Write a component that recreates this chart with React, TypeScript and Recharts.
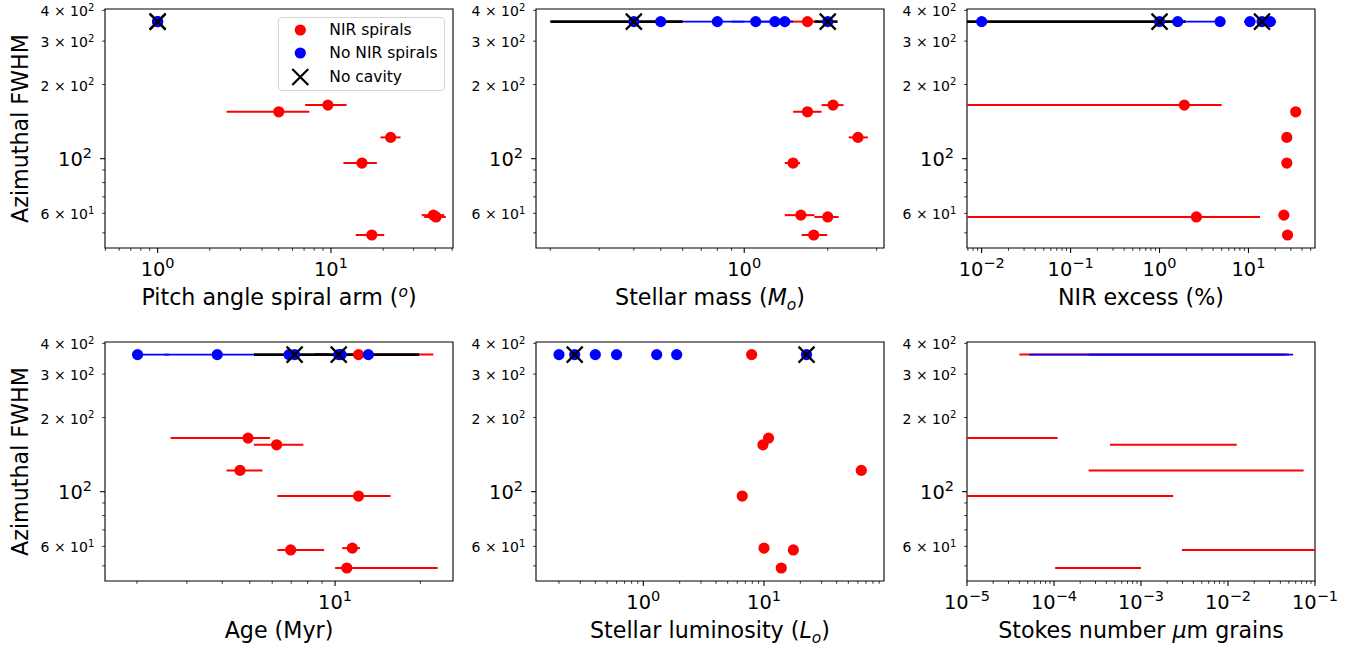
import React from 'react';
import { ScatterChart, Scatter, XAxis, YAxis, ErrorBar, ReferenceArea, Legend } from 'recharts';

const FONT = '"DejaVu Sans", Verdana, sans-serif';
const RED = '#ff0000';
const BLUE = '#0000ff';
const INK = '#000000';

type Num = number | null;

// azimuthal FWHM (objects without a value sit on the top row)
const fwhmSpiral = [165, 155, 122, 96, 59, 58, 49, 360];
const fwhmNoSpiral = [360, 360, 360, 360, 360];
const fwhmNoCavity = [360, 360];

// pitch angle of the spiral arm (deg)
const pitchSpiral: Num[] = [9.6, 5.0, 22.1, 15.1, 39, 40.4, 17.2, null];
const pitchSpiralLo: Num[] = [7.1, 2.5, 19.3, 11.8, 33.4, 34.5, 13.9, null];
const pitchSpiralHi: Num[] = [12.3, 7.5, 25.2, 18.4, 45, 46, 20.3, null];
const pitchNoSpiral: Num[] = [null, null, null, null, null];
const pitchNoCavity: Num[] = [1, 1];

// stellar mass (M_o)
const massSpiral: Num[] = [2.09, 1.69, 2.57, 1.5, 1.6, 2.0, 1.78, 1.69];
const massSpiralLo: Num[] = [1.9, 1.5, 2.38, 1.4, 1.4, 1.79, 1.61, 1.45];
const massSpiralHi: Num[] = [2.28, 1.9, 2.79, 1.59, 1.79, 2.19, 1.99, 1.85];
const massNoSpiral: Num[] = [0.5, 0.8, 1.1, 1.29, 1.4];
const massNoSpiralLo: Num[] = [0.45, 0.6, 0.9, 1.15, 1.3];
const massNoSpiralHi: Num[] = [0.6, 1.0, 1.3, 1.45, 1.5];
const massNoCavity: Num[] = [0.4, 2.0];
const massNoCavityLo: Num[] = [0.2, 1.79];
const massNoCavityHi: Num[] = [0.6, 2.17];

// NIR excess (%) — lower bounds that run off the plot are cut at the axis edge
const nirSpiral: Num[] = [1.9, 34, 27, 27, 25, 2.6, 27.5, null];
const nirSpiralLo: Num[] = [0.00684, null, null, null, null, 0.00684, null, null];
const nirSpiralHi: Num[] = [5.0, null, null, null, null, 13.5, null, null];
const nirNoSpiral: Num[] = [0.01, 1.6, 4.8, 10.4, 17.6];
const nirNoSpiralLo: Num[] = [null, 1.3, 2.0, 8.9, 15];
const nirNoSpiralHi: Num[] = [null, 2.0, null, 12, 20.5];
const nirNoCavity: Num[] = [1.0, 14.2];
const nirNoCavityLo: Num[] = [0.00684, null];
const nirNoCavityHi: Num[] = [1.96, null];

// age (Myr)
const ageSpiral: Num[] = [4.93, 6.22, 4.62, 12.1, 11.5, 6.97, 11.0, 12.1];
const ageSpiralLo: Num[] = [2.63, 5.17, 4.14, 6.26, 10.6, 6.26, 10.0, 10.0];
const ageSpiralHi: Num[] = [5.89, 7.73, 5.54, 15.7, 12.25, 9.15, 23.0, 22.2];
const ageNoSpiral: Num[] = [2.01, 3.84, 6.88, 10.5, 13.1];
const ageNoSpiralLo: Num[] = [null, 2.5, null, null, null];
const ageNoSpiralHi: Num[] = [2.6, 5.17, null, null, null];
const ageNoCavity: Num[] = [7.2, 10.3];
const ageNoCavityLo: Num[] = [5.17, 8.5];
const ageNoCavityHi: Num[] = [9.5, 19.8];

// stellar luminosity (L_o)
const lumSpiral: Num[] = [10.9, 9.8, 64, 6.6, 10.0, 17.5, 13.9, 7.9];
const lumNoSpiral: Num[] = [0.2, 0.4, 0.6, 1.29, 1.89];
const lumNoCavity: Num[] = [0.27, 22.5];

// Stokes number of micron grains — bounds past the axis are cut at the edge
const stokesSpiral: Num[] = [3e-5, 2.4e-3, 4e-3, 1.2e-3, null, 0.02, 5.6e-4, 1e-3];
const stokesSpiralLo: Num[] = [1e-5, 4.4e-4, 2.5e-4, 1e-5, null, 2.95e-3, 1.03e-4, 4e-5];
const stokesSpiralHi: Num[] = [1.1e-4, 1.26e-2, 0.074, 2.35e-3, null, 0.1, 1e-3, 0.05];
const stokesNoSpiral: Num[] = [null, 2e-3, null, 3e-3, null];
const stokesNoSpiralLo: Num[] = [null, 5.2e-5, null, 2.5e-4, null];
const stokesNoSpiralHi: Num[] = [null, 0.056, null, 0.045, null];
const stokesNoCavity: Num[] = [null, null];

// axis ticks
const yDomain = [43.4, 405];
const yTicks = [50, 60, 70, 80, 90, 100, 200, 300, 400];
const yTickLabels = ['', '6 × 10^1', '', '', '', '10^2', '2 × 10^2', '3 × 10^2', '4 × 10^2'];
const pitchMajors = [1, 10];
const massMajors = [1];
const nirMajors = [0.01, 0.1, 1, 10];
const ageMajors = [10];
const lumMajors = [1, 10];
const stokesMajors = [1e-5, 1e-4, 1e-3, 1e-2, 1e-1];

const PLOT_W = 348;
const PLOT_H = 239;
const PAD_L = 100;
const PAD_T = 10;
const PAD_R = 40;
const X_H = 65;

const toPoints = (xs: Num[], ys: number[], lo?: Num[], hi?: Num[]) =>
  xs
    .map((x, i) => {
      if (x == null) return null;
      const l = lo && lo[i] != null ? x - (lo[i] as number) : 0;
      const h = hi && hi[i] != null ? (hi[i] as number) - x : 0;
      return { x, y: ys[i], err: [l, h] };
    })
    .filter(Boolean) as { x: number; y: number; err: number[] }[];

const logTicks = ([lo, hi]: number[]) => {
  const out: number[] = [];
  for (let e = Math.floor(Math.log10(lo)); e <= Math.ceil(Math.log10(hi)); e++) {
    for (let m = 1; m < 10; m++) {
      const v = m * Math.pow(10, e);
      if (v >= lo * 0.9999 && v <= hi * 1.0001) out.push(v);
    }
  }
  return out;
};

const supText = (e: number) => (e < 0 ? '\u2212' + Math.abs(e) : String(e));

const makeXTick = (majors: number[]) => (props: any) => {
  const { x, y, payload } = props;
  const v = payload.value;
  const major = majors.some((m) => Math.abs(m - v) / m < 1e-6);
  const exp = Math.round(Math.log10(v));
  return (
    <g>
      <line x1={x} x2={x} y1={y} y2={y + (major ? 4.9 : 2.8)} stroke={INK} strokeWidth={major ? 1.1 : 0.8} />
      {major && (
        <text x={x} y={y + 28.4} textAnchor="middle" fontFamily={FONT} fontSize={19.4} fill={INK}>
          10
          <tspan dy={-8.5} fontSize={14.5}>
            {supText(exp)}
          </tspan>
        </text>
      )}
    </g>
  );
};

const YTick = (props: any) => {
  const { x, y, payload } = props;
  const v = payload.value;
  const idx = yTicks.indexOf(v);
  const lab = idx >= 0 ? yTickLabels[idx] : '';
  const major = v === 100;
  const [base, sup] = lab.split('^');
  return (
    <g>
      <line x1={x} x2={x - (major ? 4.9 : 2.8)} y1={y} y2={y} stroke={INK} strokeWidth={major ? 1.1 : 0.8} />
      {lab && (
        <text
          x={x - (major ? 13 : 10.7)}
          y={y + (major ? 7.5 : 6)}
          textAnchor="end"
          fontFamily={FONT}
          fontSize={major ? 19.4 : 14}
          fill={INK}
        >
          {base}
          <tspan dy={major ? -8.5 : -5.5} fontSize={major ? 14.5 : 10}>
            {sup}
          </tspan>
        </text>
      )}
    </g>
  );
};

const yTitle = (props: any) => {
  const vb = props.viewBox;
  const x = vb.x + vb.width - 77;
  const cy = vb.y + vb.height / 2;
  return (
    <text x={x} y={cy} transform={`rotate(-90 ${x} ${cy})`} textAnchor="middle" fontFamily={FONT} fontSize={22.2} fill={INK}>
      Azimuthal FWHM
    </text>
  );
};

const xTitle = (content: React.ReactNode) => (props: any) => {
  const vb = props.viewBox;
  return (
    <text x={vb.x + vb.width / 2} y={vb.y + 56.7} textAnchor="middle" fontFamily={FONT} fontSize={22.2} fill={INK}>
      {content}
    </text>
  );
};

const dot = (fill: string) => (props: any) => <circle cx={props.cx} cy={props.cy} r={5.6} fill={fill} />;
const noShape = () => <g />;
const crossShape = (props: any) => {
  const { cx, cy } = props;
  const s = 8;
  return (
    <g>
      <circle cx={cx} cy={cy} r={5.6} fill={BLUE} />
      <path d={`M${cx - s},${cy - s}L${cx + s},${cy + s}M${cx - s},${cy + s}L${cx + s},${cy - s}`} stroke={INK} strokeWidth={2.2} />
    </g>
  );
};

const legendOrder = ['NIR spirals', 'No NIR spirals', 'No cavity'];
const legendIcon = (name: string) => {
  if (name === 'No cavity')
    return <path d="M14.3,2L30.3,18M14.3,18L30.3,2" stroke={INK} strokeWidth={2.2} />;
  return <circle cx={22.3} cy={10} r={5.6} fill={name === 'NIR spirals' ? RED : BLUE} />;
};
const LegendBox = (props: any) => {
  const names = (props.payload || []).map((e: any) => e.value);
  const items = legendOrder.filter((n) => names.length === 0 || names.includes(n));
  return (
    <div
      style={{
        position: 'relative',
        width: 167,
        height: 74,
        boxSizing: 'border-box',
        border: '1px solid #d5d5d5',
        borderRadius: 4,
        background: 'rgba(255,255,255,0.8)',
        fontFamily: FONT,
        fontSize: 15.5,
        color: INK,
      }}
    >
      {items.map((name, i) => (
        <div
          key={name}
          style={{ position: 'absolute', left: -1, top: 2.3 + i * 23.35, height: 20, display: 'flex', alignItems: 'center', whiteSpace: 'nowrap' }}
        >
          <svg width={45} height={20} style={{ display: 'block' }}>
            {legendIcon(name)}
          </svg>
          <span style={{ marginLeft: 6.6, lineHeight: '20px' }}>{name}</span>
        </div>
      ))}
    </div>
  );
};

const panels = [
  {
    id: 'pitch',
    left: 105,
    top: 9.3,
    domain: [0.497, 50.6],
    majors: pitchMajors,
    yTitle: true,
    legend: true,
    markers: true,
    title: (
      <>
        Pitch angle spiral arm (
        <tspan dy={-8} fontSize={15.5} fontStyle="italic">
          o
        </tspan>
        <tspan dy={8}>)</tspan>
      </>
    ),
    spiral: toPoints(pitchSpiral, fwhmSpiral, pitchSpiralLo, pitchSpiralHi),
    noSpiral: toPoints(pitchNoSpiral, fwhmNoSpiral),
    noCavity: toPoints(pitchNoCavity, fwhmNoCavity),
  },
  {
    id: 'mass',
    left: 536,
    top: 9.3,
    domain: [0.1776, 3.19],
    majors: massMajors,
    yTitle: false,
    legend: false,
    markers: true,
    title: (
      <>
        Stellar mass (<tspan fontStyle="italic">M</tspan>
        <tspan dy={5} fontSize={15.5} fontStyle="italic">
          o
        </tspan>
        <tspan dy={-5}>)</tspan>
      </>
    ),
    spiral: toPoints(massSpiral, fwhmSpiral, massSpiralLo, massSpiralHi),
    noSpiral: toPoints(massNoSpiral, fwhmNoSpiral, massNoSpiralLo, massNoSpiralHi),
    noCavity: toPoints(massNoCavity, fwhmNoCavity, massNoCavityLo, massNoCavityHi),
  },
  {
    id: 'nir',
    left: 967,
    top: 9.3,
    domain: [0.00684, 56],
    majors: nirMajors,
    yTitle: false,
    legend: false,
    markers: true,
    title: <>NIR excess (%)</>,
    spiral: toPoints(nirSpiral, fwhmSpiral, nirSpiralLo, nirSpiralHi),
    noSpiral: toPoints(nirNoSpiral, fwhmNoSpiral, nirNoSpiralLo, nirNoSpiralHi),
    noCavity: toPoints(nirNoCavity, fwhmNoCavity, nirNoCavityLo, nirNoCavityHi),
  },
  {
    id: 'age',
    left: 105,
    top: 342.3,
    domain: [1.543, 26.06],
    majors: ageMajors,
    yTitle: true,
    legend: false,
    markers: true,
    title: <>Age (Myr)</>,
    spiral: toPoints(ageSpiral, fwhmSpiral, ageSpiralLo, ageSpiralHi),
    noSpiral: toPoints(ageNoSpiral, fwhmNoSpiral, ageNoSpiralLo, ageNoSpiralHi),
    noCavity: toPoints(ageNoCavity, fwhmNoCavity, ageNoCavityLo, ageNoCavityHi),
  },
  {
    id: 'lum',
    left: 536,
    top: 342.3,
    domain: [0.129, 98.7],
    majors: lumMajors,
    yTitle: false,
    legend: false,
    markers: true,
    title: (
      <>
        Stellar luminosity (<tspan fontStyle="italic">L</tspan>
        <tspan dy={5} fontSize={15.5} fontStyle="italic">
          o
        </tspan>
        <tspan dy={-5}>)</tspan>
      </>
    ),
    spiral: toPoints(lumSpiral, fwhmSpiral),
    noSpiral: toPoints(lumNoSpiral, fwhmNoSpiral),
    noCavity: toPoints(lumNoCavity, fwhmNoCavity),
  },
  {
    id: 'stokes',
    left: 967,
    top: 342.3,
    domain: [1e-5, 0.1],
    majors: stokesMajors,
    yTitle: false,
    legend: false,
    markers: false,
    title: (
      <>
        Stokes number <tspan fontStyle="italic">μ</tspan>m grains
      </>
    ),
    spiral: toPoints(stokesSpiral, fwhmSpiral, stokesSpiralLo, stokesSpiralHi),
    noSpiral: toPoints(stokesNoSpiral, fwhmNoSpiral, stokesNoSpiralLo, stokesNoSpiralHi),
    noCavity: toPoints(stokesNoCavity, fwhmNoCavity),
  },
];

const Panel = ({ p }: { p: (typeof panels)[number] }) => {
  const chartLeft = p.left - PAD_L;
  const chartTop = p.top - PAD_T;
  return (
    <div style={{ position: 'absolute', left: chartLeft, top: chartTop }}>
      <ScatterChart
        width={PAD_L + PLOT_W + PAD_R}
        height={PAD_T + PLOT_H + X_H}
        margin={{ top: PAD_T, right: PAD_R, bottom: 0, left: 0 }}
      >
        <XAxis
          type="number"
          dataKey="x"
          scale="log"
          domain={p.domain}
          allowDataOverflow
          ticks={logTicks(p.domain)}
          interval={0}
          tickSize={0}
          tickMargin={0}
          axisLine={false}
          tickLine={false}
          tick={makeXTick(p.majors)}
          height={X_H}
          label={xTitle(p.title)}
        />
        <YAxis
          type="number"
          dataKey="y"
          scale="log"
          domain={yDomain}
          allowDataOverflow
          ticks={yTicks}
          interval={0}
          tickSize={0}
          tickMargin={0}
          axisLine={false}
          tickLine={false}
          tick={YTick}
          width={PAD_L}
          label={p.yTitle ? yTitle : undefined}
        />
        <ReferenceArea
          x1={p.domain[0]}
          x2={p.domain[1]}
          y1={yDomain[0]}
          y2={yDomain[1]}
          fill="none"
          fillOpacity={0}
          stroke={INK}
          strokeWidth={1.1}
          ifOverflow="visible"
        />
        {/* error bars first, markers on top */}
        <Scatter data={p.spiral} shape={noShape} legendType="none" isAnimationActive={false}>
          <ErrorBar dataKey="err" direction="x" width={0} stroke={RED} strokeWidth={2} isAnimationActive={false} />
        </Scatter>
        <Scatter data={p.noSpiral} shape={noShape} legendType="none" isAnimationActive={false}>
          <ErrorBar dataKey="err" direction="x" width={0} stroke={BLUE} strokeWidth={1.8} isAnimationActive={false} />
        </Scatter>
        <Scatter data={p.noCavity} shape={noShape} legendType="none" isAnimationActive={false}>
          <ErrorBar dataKey="err" direction="x" width={0} stroke={INK} strokeWidth={2.6} isAnimationActive={false} />
        </Scatter>
        <Scatter
          name="NIR spirals"
          data={p.markers ? p.spiral : []}
          fill={RED}
          shape={dot(RED)}
          isAnimationActive={false}
        />
        <Scatter
          name="No NIR spirals"
          data={p.markers ? p.noSpiral : []}
          fill={BLUE}
          shape={dot(BLUE)}
          isAnimationActive={false}
        />
        <Scatter
          name="No cavity"
          data={p.markers ? p.noCavity : []}
          fill={INK}
          shape={crossShape}
          isAnimationActive={false}
        />
        {p.legend && (
          <Legend
            layout="vertical"
            align="center"
            verticalAlign="middle"
            content={LegendBox}
            wrapperStyle={{ left: 277.7 - chartLeft, top: 16.7 - chartTop, width: 167, height: 74, bottom: 'auto', right: 'auto' }}
          />
        )}
      </ScatterChart>
    </div>
  );
};

export default function App() {
  return (
    <div style={{ position: 'absolute', left: 0, top: 0, width: 1364, height: 649, overflow: 'hidden', background: '#fff' }}>
      {panels.map((p) => (
        <Panel key={p.id} p={p} />
      ))}
    </div>
  );
}
